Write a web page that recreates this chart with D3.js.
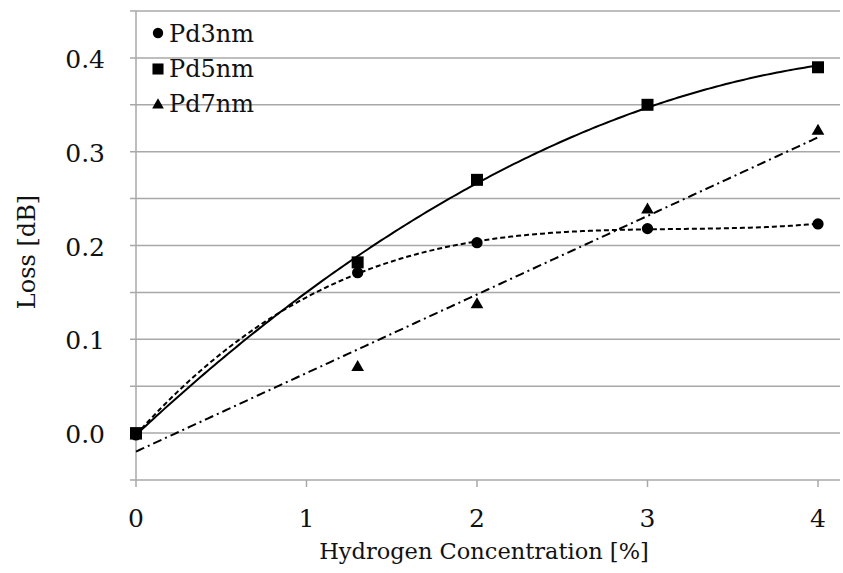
<!DOCTYPE html>
<html>
<head>
<meta charset="utf-8">
<script src="https://cdn.jsdelivr.net/npm/d3@7"></script>
<style>
  body { margin: 0; background: #fff; }
</style>
</head>
<body>
<div id="chart"></div>
<script>
// data
var conc = [0, 1.3, 2, 3, 4]
var pd3 = [-0.002, 0.171, 0.203, 0.218, 0.223]
var pd5 = [0.0, 0.182, 0.270, 0.350, 0.390]
var pd7 = [-0.003, 0.070, 0.137, 0.238, 0.322]
var names = ["Pd3nm", "Pd5nm", "Pd7nm"]
var xTicks = [0, 1, 2, 3, 4]
var yTicks = [0, 0.1, 0.2, 0.3, 0.4]

var width = 843, height = 573
var margin = {top: 11, right: 3, bottom: 93, left: 136}
var serif = "DejaVu Serif"

var svg = d3.select("#chart").append("svg")
  .attr("width", width)
  .attr("height", height)
  .attr("font-family", serif)

var x = d3.scaleLinear().domain([0, 4.0]).range([margin.left, 818])
var y = d3.scaleLinear().domain([-0.05, 0.45]).range([height - margin.bottom, margin.top])

//gridlines every 0.05
var grid = d3.range(-0.05, 0.4501, 0.05)
svg.append("g").selectAll("line")
  .data(grid).enter().append("line")
  .attr("x1", margin.left - 6).attr("x2", width - margin.right)
  .attr("y1", function(d){ return y(d) }).attr("y2", function(d){ return y(d) })
  .style("stroke", "#a8a8a8").style("stroke-width", 1.5)

// y axis line
svg.append("line")
  .attr("x1", x(0)).attr("x2", x(0))
  .attr("y1", y(0.45)).attr("y2", y(-0.05))
  .style("stroke", "#a8a8a8").style("stroke-width", 1.5)

// x ticks
svg.append("g").selectAll("line")
  .data(xTicks).enter().append("line")
  .attr("x1", function(d){ return x(d) }).attr("x2", function(d){ return x(d) })
  .attr("y1", y(-0.05)).attr("y2", y(-0.05) + 7)
  .style("stroke", "#a8a8a8").style("stroke-width", 1.5)

svg.append("g").selectAll("text")
  .data(xTicks).enter().append("text")
  .attr("x", function(d){ return x(d) })
  .attr("y", 527)
  .attr("text-anchor", "middle")
  .attr("font-family", serif)
  .attr("font-size", 25)
  .attr("fill", "#111")
  .text(function(d){ return d })

svg.append("g").selectAll("text")
  .data(yTicks).enter().append("text")
  .attr("x", 105)
  .attr("y", function(d){ return y(d) + 10 })
  .attr("text-anchor", "end")
  .attr("font-family", serif)
  .attr("font-size", 25)
  .attr("fill", "#111")
  .text(function(d){ return d.toFixed(1) })

svg.append("text")
  .attr("x", 484).attr("y", 559)
  .attr("text-anchor", "middle")
  .attr("font-family", serif)
  .attr("font-size", 22.5)
  .attr("fill", "#111")
  .text("Hydrogen Concentration [%]")

svg.append("text")
  .attr("transform", "translate(35," + 252 + ") rotate(-90)")
  .attr("text-anchor", "middle")
  .attr("font-family", serif)
  .attr("font-size", 24)
  .attr("fill", "#111")
  .text("Loss [dB]")

//least squares polynomial fit (trendlines)
function polyfit(xs, ys, order){
  var n = order + 1
  var A = [], b = []
  for(var i=0; i<n; i++){
    A.push([])
    for(var j=0; j<n; j++){
      var s = 0
      xs.forEach(function(v){ s += Math.pow(v, i + j) })
      A[i].push(s)
    }
    var t = 0
    xs.forEach(function(v, k){ t += ys[k] * Math.pow(v, i) })
    b.push(t)
  }
  // gaussian elimination
  for(var c=0; c<n; c++){
    var p = c
    for(var r=c+1; r<n; r++) if(Math.abs(A[r][c]) > Math.abs(A[p][c])) p = r
    var tmp = A[c]; A[c] = A[p]; A[p] = tmp
    var tb = b[c]; b[c] = b[p]; b[p] = tb
    for(var r2=c+1; r2<n; r2++){
      var f = A[r2][c] / A[c][c]
      for(var k=c; k<n; k++) A[r2][k] -= f * A[c][k]
      b[r2] -= f * b[c]
    }
  }
  var coef = new Array(n).fill(0)
  for(var r3=n-1; r3>=0; r3--){
    var s2 = b[r3]
    for(var k2=r3+1; k2<n; k2++) s2 -= A[r3][k2] * coef[k2]
    coef[r3] = s2 / A[r3][r3]
  }
  return function(v){
    var out = 0
    coef.forEach(function(cf, i){ out += cf * Math.pow(v, i) })
    return out
  }
}

var series = [
  {name: names[0], vals: pd3, order: 3, dash: "5,3", shape: d3.symbolCircle, size: 100},
  {name: names[1], vals: pd5, order: 2, dash: null, shape: d3.symbolSquare, size: 144},
  {name: names[2], vals: pd7, order: 1, dash: "9,4,2,4", shape: d3.symbolTriangle, size: 70}
]

var samples = d3.range(0, 4.0001, 0.02)
var line = d3.line()
  .x(function(d){ return x(d[0]) })
  .y(function(d){ return y(d[1]) })

series.forEach(function(s){
  var fit = polyfit(conc, s.vals, s.order)
  svg.append("path")
    .attr("d", line(samples.map(function(v){ return [v, fit(v)] })))
    .style("fill", "none")
    .style("stroke", "#000")
    .style("stroke-width", 2)
    .style("stroke-dasharray", s.dash)
})

series.forEach(function(s){
  svg.append("g").selectAll("path")
    .data(s.vals).enter().append("path")
    .attr("transform", function(d, i){ return "translate(" + x(conc[i]) + "," + y(d) + ")" })
    .attr("d", d3.symbol().type(s.shape).size(s.size))
    .style("fill", "#000")
})

// legend
var legend = svg.append("g")
series.forEach(function(s, i){
  legend.append("path")
    .attr("transform", "translate(158," + (33 + i*36) + ")")
    .attr("d", d3.symbol().type(s.shape).size(s.size*0.85))
    .style("fill", "#000")
  legend.append("text")
    .attr("x", 169).attr("y", 42 + i*35)
    .attr("font-family", serif)
    .attr("font-size", 24)
    .attr("fill", "#111")
    .text(s.name)
})
</script>
</body>
</html>
